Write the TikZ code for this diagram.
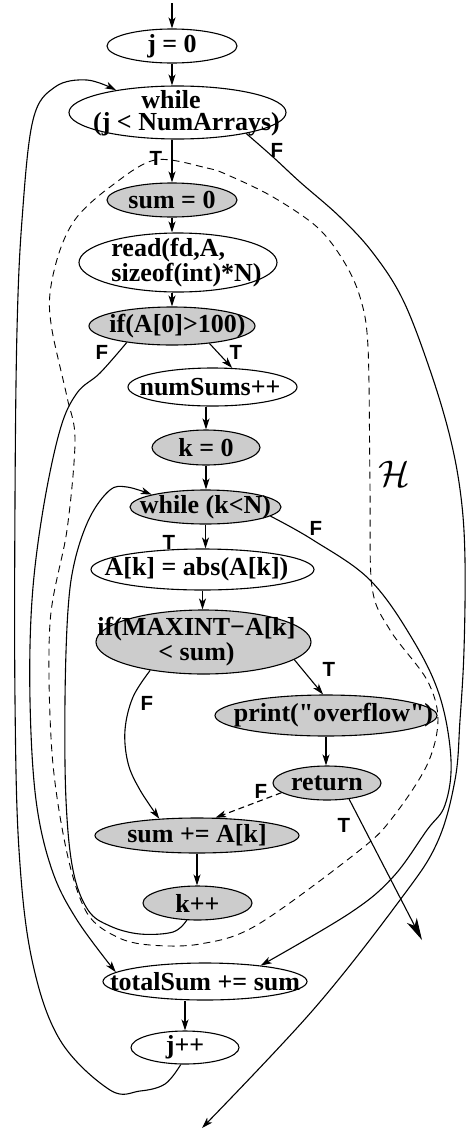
\documentclass[tikz,border=0pt]{standalone}
\usepackage{fontspec}
\setmainfont{Liberation Serif}
\newfontfamily\qfont{Liberation Serif}
\newfontfamily\lblfont{Liberation Sans}
\usetikzlibrary{arrows.meta,shapes.geometric,calc}
\begin{document}
\begin{tikzpicture}[x=1pt,y=-1pt,
  line width=1.1pt,
  ell/.style={ellipse,draw,line width=1.1pt,inner sep=0pt},
  shaded/.style={ell,fill=black!20},
  txt/.style={font=\bfseries\fontsize{26}{20}\selectfont,inner sep=0pt},
  lbl/.style={font=\lblfont\bfseries\fontsize{20.5}{21}\selectfont,inner sep=0pt},
  arr/.style={-{Stealth[length=11pt,width=7pt,inset=3pt]}},
  bigarr/.style={-{Stealth[length=22pt,width=11pt,inset=6pt]}}]
\useasboundingbox (0,0) rectangle (466,1130);

% nodes
\node[ell,minimum width=130pt,minimum height=34pt,label={[txt]center:{j = 0}}] (j0) at (172,46) {};
\node[ell,minimum width=217pt,minimum height=53pt,label={[txt,align=center,xshift=9pt,yshift=-1pt,font=\bfseries\fontsize{26}{22}\selectfont]center:{\hspace*{-31pt}while\\(j < NumArrays)}}] (wj) at (177.5,112.5) {};
\node[shaded,minimum width=130pt,minimum height=34pt,label={[txt]center:{sum = 0}}] (sum0) at (172,200) {};
\node[ell,minimum width=198pt,minimum height=59pt,label={[txt,align=left,xshift=8.5pt]center:{read(fd,A,\\sizeof(int)*N)}}] (rd) at (178,262.5) {};
\node[shaded,minimum width=166pt,minimum height=38pt,label={[txt,xshift=5.5pt]center:{if(A[0]>100)}}] (ifa) at (172,326) {};
\node[ell,minimum width=169pt,minimum height=38pt,label={[txt,xshift=-2.5pt]center:{numSums++}}] (nums) at (212.5,387) {};
\node[shaded,minimum width=108pt,minimum height=35pt,label={[txt]center:{k = 0}}] (k0) at (206,447.5) {};
\node[shaded,minimum width=151pt,minimum height=34pt,label={[txt]center:{while (k<N)}}] (wk) at (205.5,507) {};
\node[ell,minimum width=223pt,minimum height=41pt,label={[txt,xshift=-6pt]center:{A[k] = abs(A[k])}}] (absk) at (202.5,569.5) {};
\node[shaded,minimum width=215pt,minimum height=64pt,label={[txt,align=center,xshift=-7pt,font=\bfseries\fontsize{26}{25}\selectfont]center:{if(MAXINT−A[k]\\< sum)}}] (mx) at (203.5,642) {};
\node[shaded,minimum width=222pt,minimum height=41pt,label={[txt,xshift=7.5pt]center:{print({\qfont"}overflow{\qfont"})}}] (pr) at (326,715.5) {};
\node[shaded,minimum width=108pt,minimum height=34pt,label={[txt]center:{return}}] (ret) at (327,783) {};
\node[shaded,minimum width=204pt,minimum height=35pt,label={[txt]center:{sum += A[k]}}] (sumk) at (197,835.5) {};
\node[shaded,minimum width=109pt,minimum height=34pt,label={[txt]center:{k++}}] (kpp) at (197.5,903) {};
\node[ell,minimum width=204pt,minimum height=37pt,label={[txt]center:{totalSum += sum}}] (tot) at (205,981.5) {};
\node[ell,minimum width=108pt,minimum height=33pt,label={[txt]center:{j++}}] (jpp) at (185,1047.5) {};

\coordinate (start) at (172,3);
\coordinate (exitJ) at (202,1128);
\coordinate (exitR) at (422,940);

% labels
\node[lbl] (tWj) at (156,158) {T};
\node[lbl] (fWj) at (277,150) {F};
\node[lbl] (fIfa) at (102,352) {F};
\node[lbl] (tIfa) at (236,352) {T};
\node[lbl] (fWk) at (316,528) {F};
\node[lbl] (tWk) at (169,542) {T};
\node[lbl] (tMx) at (329,669) {T};
\node[lbl] (fMx) at (147,703) {F};
\node[lbl] (fRet) at (261,791) {F};
\node[lbl] (tRet) at (344,825) {T};
\node[scale=3.7] (hl) at (394,474) {$\mathcal{H}$};

% straight arrows
\draw[arr] (start) -- (start |- j0.north);
\draw[arr] (j0.south) -- (j0.south |- wj.north);
\draw[arr] (sum0.north |- wj.south) -- (sum0.north);
\draw[arr] (sum0.south) -- (sum0.south |- rd.north);
\draw[arr] (ifa.north |- rd.south) -- (ifa.north);
\draw[arr] (ifa.-25) -- (nums.44);
\draw[arr] (k0.north |- nums.south) -- (k0.north);
\draw[arr] (k0.south) -- (k0.south |- wk.north);
\draw[arr] (wk.south) -- (wk.south |- absk.north);
\draw[arr] (absk.south) -- (absk.south |- mx.north);
\draw[arr] (mx.-11) -- (pr.98);
\draw[arr] (pr.south) -- (pr.south |- ret.north);
\draw[arr,dashed,dash pattern=on 6pt off 4pt] (ret.192) -- (sumk.44);
\draw[bigarr] (ret.-36) -- (exitR);
\draw[arr] (sumk.south) -- (sumk.south |- kpp.north);
\draw[arr] (jpp.north |- tot.south) -- (jpp.north);

% curved arrows
\draw[arr] plot[smooth,tension=0.6] coordinates {(wj.-17) (273,157) (300,182) (340,217) (373,253) (403,300) (430,370) (450,437) (461,497) (465,560) (464,650) (460,720) (455,780) (437,843) (400,900) (313,1010) (exitJ)};
\draw[arr] plot[smooth,tension=0.6] coordinates {(wk.-8) (313,540) (370,580) (413,640) (440,697) (451,760) (445,805) (427,830) (393,877) (350,913) (tot.16)};
\draw[arr] plot[smooth,tension=0.6] coordinates {(ifa.200) (100,373) (77,393) (60,430) (43,510) (32,600) (30,700) (36,800) (52,870) (77,920) (tot.174)};
\draw[arr] plot[smooth,tension=0.6] coordinates {(mx.-152) (133,697) (125,730) (128,763) (140,790) (sumk.156)};
\draw[arr] plot[smooth,tension=0.6] coordinates {(kpp.-122) (173,932) (140,934) (110,926) (88,910) (73,870) (66,800) (65,700) (68,610) (75,560) (90,517) (110,490) (127,487) (wk.167)};
\draw[arr] plot[smooth,tension=0.6] coordinates {(jpp.-104) (165,1084) (140,1091) (110,1090) (60,1040) (32,960) (19,850) (15,700) (15,500) (17,330) (22,220) (33,120) (55,87) (87,80) (wj.160)};

% region H
\draw[line width=0.9pt,dash pattern=on 7pt off 5pt] plot[smooth cycle,tension=0.55] coordinates {(155,160) (207,168) (230,176) (273,197) (317,227) (343,260) (360,297) (368,347) (370,487) (372,587) (390,630) (427,680) (438,720) (427,765) (393,817) (360,850) (257,925) (200,944) (150,945) (117,937) (87,913) (67,853) (52,753) (50,623) (67,530) (75,440) (67,397) (52,330) (50,293) (60,250) (77,217) (110,187)};
\end{tikzpicture}
\end{document}
